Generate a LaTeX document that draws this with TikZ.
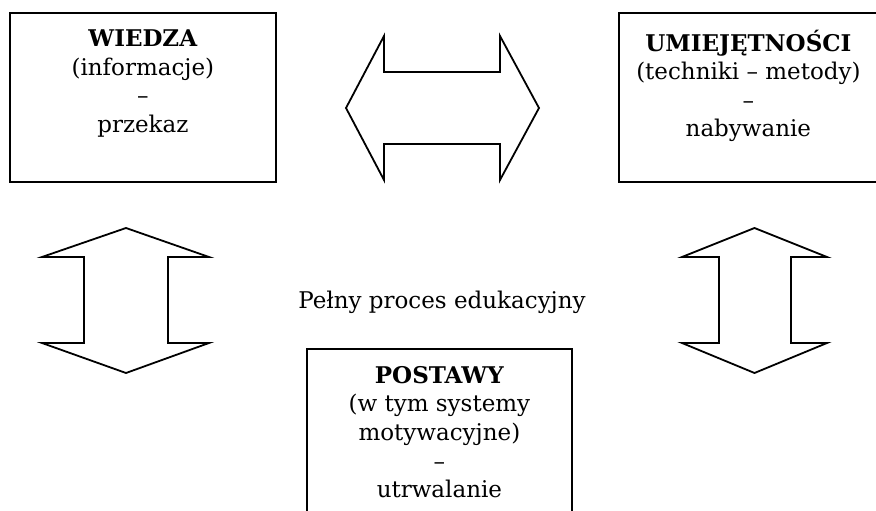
\documentclass[tikz,border=0pt]{standalone}
\usepackage{fontspec}
\setmainfont{DejaVu Serif}
\begin{document}
\begin{tikzpicture}[x=1pt,y=-1pt,
  box/.style={draw=black,line width=1.8pt,fill=white,anchor=north west,inner sep=0pt},
  boxtext/.style={anchor=north,align=center,inner sep=0pt,font=\fontsize{23}{28.6}\selectfont},
  blockarrow/.style={draw=black,line width=1.8pt,line join=miter,fill=white},
  plain/.style={inner sep=0pt,font=\fontsize{23}{26}\selectfont}]
\useasboundingbox (0,0) rectangle (876,511);

% knowledge box (top left)
\node[box,minimum width=266pt,minimum height=169pt] (wiedza) at (9,12) {};
\node[boxtext] (wiedzatxt) at ([yshift=-17.5pt]wiedza.north)
  {\textbf{WIEDZA}\\(informacje)\\–\\przekaz};

% skills box (top right, running off the page edge)
\node[box,minimum width=259pt,minimum height=169pt] (umiej) at (618,12) {};
\node[boxtext] (umiejtxt) at ([yshift=-17.5pt]umiej.north)
  {\textbf{UMIEJĘTNOŚCI}\\(techniki – metody)\\–\\nabywanie};

% attitudes box (bottom middle, running off the page edge)
\node[box,minimum width=265pt,minimum height=175pt] (postawy) at (306,348) {};
\node[boxtext] (postawytxt) at ([yshift=-18pt]postawy.north)
  {\textbf{POSTAWY}\\(w tym systemy\\motywacyjne)\\–\\utrwalanie};

% caption in the middle
\node[plain] (caption) at (442,302) {Pełny proces edukacyjny};

% two-headed block arrows
\draw[blockarrow] (346,108) -- (384,36) -- (384,72) -- (500,72) -- (500,36)
  -- (539,108) -- (500,180) -- (500,144) -- (384,144) -- (384,180) -- cycle;
\draw[blockarrow] (126,228) -- (209,257) -- (168,257) -- (168,343) -- (209,343)
  -- (126,373) -- (42,343) -- (84,343) -- (84,257) -- (42,257) -- cycle;
\draw[blockarrow] (754.5,228) -- (827,257) -- (791,257) -- (791,343) -- (827,343)
  -- (754.5,373) -- (682,343) -- (719,343) -- (719,257) -- (682,257) -- cycle;
\end{tikzpicture}
\end{document}
